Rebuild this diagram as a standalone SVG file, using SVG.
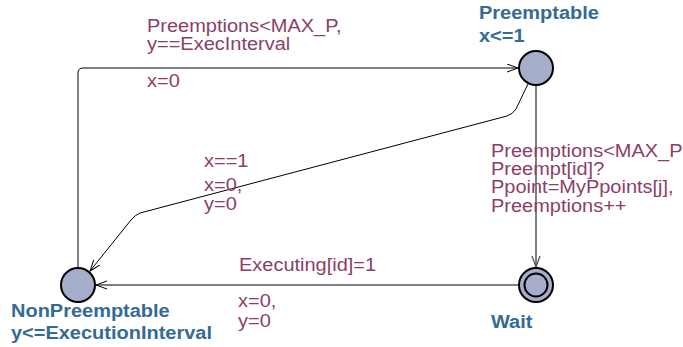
<svg xmlns="http://www.w3.org/2000/svg" width="683" height="347" viewBox="0 0 683 347">
<style>
.loc{fill:#a6aecb;stroke:#000;stroke-width:2}
.name{font-family:"Liberation Sans",Arial,sans-serif;font-size:18.5px;font-weight:bold;fill:#336b96}
.lbl{font-family:"Liberation Sans",Arial,sans-serif;font-size:18.5px;fill:#8c3e69}
.edge{fill:none;stroke:#000;stroke-width:1}
</style>
<defs>
<marker id="arr" markerUnits="userSpaceOnUse" markerWidth="12" markerHeight="10" refX="11" refY="4.5" orient="auto">
<path d="M0,0.5 L11,4.5 L0,8.5" fill="none" stroke="#000" stroke-width="1"/>
</marker>
<marker id="arrg" markerUnits="userSpaceOnUse" markerWidth="12" markerHeight="10" refX="11" refY="4.5" orient="auto">
<path d="M0,0.5 L11,4.5 L0,8.5" fill="none" stroke="#555" stroke-width="1.3"/>
</marker>
</defs>
<g id="connectors">
<path class="edge" d="M78,268 L78,73 Q78,68 83,68 L518,68" marker-end="url(#arr)"/>
<path class="edge" d="M528,84 L516,109 Q513,114 507,116 L140,213 Q135,215 131,220 L90,271" marker-end="url(#arr)"/>
<path class="edge" d="M536,85 L536,267" style="stroke:#555;stroke-width:1.5" marker-end="url(#arrg)"/>
<path class="edge" d="M519,285 L96,285" marker-end="url(#arr)"/>
</g>
<g id="edge-labels">
<text class="lbl" transform="translate(147 32) scale(1.08 1)">Preemptions&lt;MAX_P,</text>
<text class="lbl" transform="translate(147 50) scale(1.08 1)">y==ExecInterval</text>
<text class="lbl" transform="translate(147 87) scale(1.08 1)">x=0</text>
<text class="lbl" transform="translate(491 157) scale(1.08 1)">Preemptions&lt;MAX_P</text>
<text class="lbl" transform="translate(491 175) scale(1.08 1)">Preempt[id]?</text>
<text class="lbl" transform="translate(491 193) scale(1.08 1)">Ppoint=MyPpoints[j],</text>
<text class="lbl" transform="translate(491 212) scale(1.08 1)">Preemptions++</text>
<text class="lbl" transform="translate(204 167) scale(1.08 1)">x==1</text>
<text class="lbl" transform="translate(204 191) scale(1.08 1)">x=0,</text>
<text class="lbl" transform="translate(204 210) scale(1.08 1)">y=0</text>
<text class="lbl" transform="translate(239 271) scale(1.08 1)">Executing[id]=1</text>
<text class="lbl" transform="translate(238 307) scale(1.08 1)">x=0,</text>
<text class="lbl" transform="translate(238 327) scale(1.08 1)">y=0</text>
</g>
<g id="Preemptable">
<circle class="loc" cx="536" cy="68" r="17"/>
<text class="name" transform="translate(479 19) scale(1.08 1)">Preemptable</text>
<text class="name" transform="translate(479 42) scale(1.08 1)">x&lt;=1</text>
</g>
<g id="NonPreemptable">
<circle class="loc" cx="78" cy="285" r="17"/>
<text class="name" transform="translate(11 317) scale(1.08 1)">NonPreemptable</text>
<text class="name" transform="translate(11 339) scale(1.08 1)">y&lt;=ExecutionInterval</text>
</g>
<g id="Wait">
<circle class="loc" cx="536" cy="285" r="17"/>
<circle cx="536" cy="285" r="11.5" fill="none" stroke="#000" stroke-width="2"/>
<text class="name" transform="translate(491 328) scale(1.08 1)">Wait</text>
</g>
</svg>
